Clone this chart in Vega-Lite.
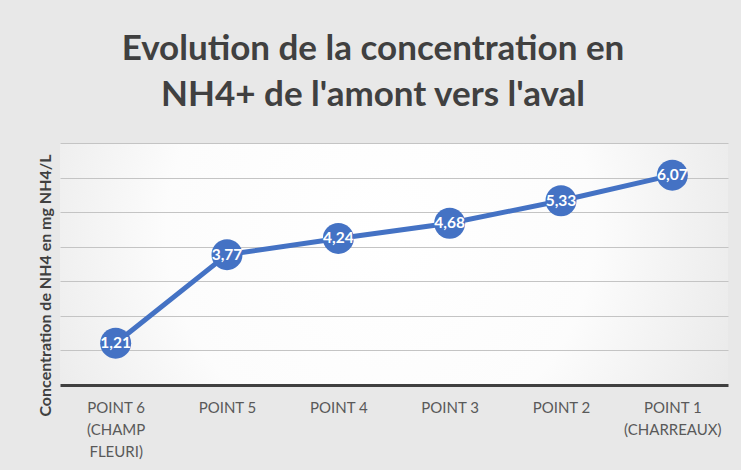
{
  "$schema": "https://vega.github.io/schema/vega-lite/v6.json",
  "width": 668,
  "height": 242,
  "autosize": {"type": "none"},
  "padding": {"left": 60, "top": 143, "right": 13, "bottom": 85},
  "background": "#e8e8e8",
  "config": {
    "font": "Lato",
    "locale": {"number": {"decimal": ",", "thousands": " ", "grouping": [3], "currency": ["", " €"]}},
    "view": {
      "stroke": null,
      "fill": {
        "gradient": "radial",
        "x1": 0.48, "y1": 0.45, "r1": 0,
        "x2": 0.48, "y2": 0.45, "r2": 0.8,
        "stops": [
          {"offset": 0, "color": "#ffffff"},
          {"offset": 0.4, "color": "#fcfcfc"},
          {"offset": 1, "color": "#d8d8d8"}
        ]
      }
    }
  },
  "title": {
    "text": ["Evolution de la concentration en", "NH4+ de l'amont vers l'aval"],
    "fontSize": 35,
    "fontWeight": "bold",
    "color": "#404040",
    "lineHeight": 46,
    "anchor": "middle",
    "dx": -21,
    "offset": 30
  },
  "data": {
    "values": [
      {"point": "POINT 6|(CHAMP|FLEURI)", "value": 1.21},
      {"point": "POINT 5", "value": 3.77},
      {"point": "POINT 4", "value": 4.24},
      {"point": "POINT 3", "value": 4.68},
      {"point": "POINT 2", "value": 5.33},
      {"point": "POINT 1|(CHARREAUX)", "value": 6.07}
    ]
  },
  "encoding": {
    "x": {
      "field": "point",
      "type": "nominal",
      "sort": null,
      "scale": {"type": "point", "padding": 0.5},
      "axis": {
        "title": null,
        "labelAngle": 0,
        "labelExpr": "split(datum.value, '|')",
        "labelFontSize": 15,
        "labelColor": "#595959",
        "labelLineHeight": 22,
        "labelPadding": 15,
        "labelBaseline": "top",
        "ticks": false,
        "grid": false,
        "domainColor": "#404040",
        "domainWidth": 3
      }
    },
    "y": {
      "field": "value",
      "type": "quantitative",
      "scale": {"domain": [0, 7], "nice": false},
      "axis": {
        "title": "Concentration de NH4 en mg NH4/L",
        "titleFontSize": 16,
        "titleFontWeight": "bold",
        "titleColor": "#404040",
        "titleX": -15,
        "titleY": 142,
        "titleAngle": -90,
        "titleAlign": "center",
        "titleBaseline": "middle",
        "labels": false,
        "ticks": false,
        "domain": false,
        "grid": true,
        "gridColor": "#c4c4c4",
        "gridWidth": 1,
        "values": [1, 2, 3, 4, 5, 6, 7]
      }
    }
  },
  "layer": [
    {"mark": {"type": "line", "color": "#4472C4", "strokeWidth": 5}},
    {"mark": {"type": "circle", "color": "#4472C4", "size": 960, "opacity": 1}},
    {
      "mark": {"type": "text", "color": "#ffffff", "fontWeight": "bold", "fontSize": 15.5},
      "encoding": {"text": {"field": "value", "type": "quantitative", "format": ".2f"}}
    }
  ]
}
